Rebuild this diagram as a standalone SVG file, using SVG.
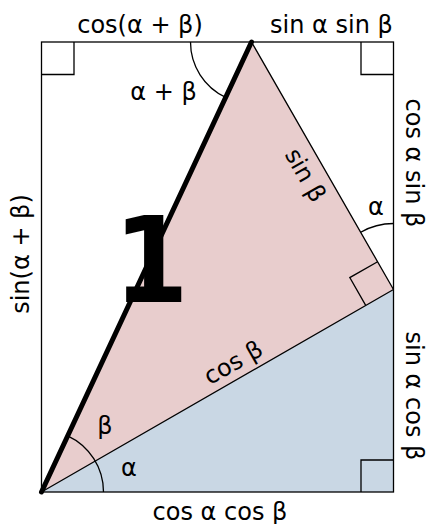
<svg xmlns="http://www.w3.org/2000/svg" width="426" height="524" viewBox="0 0 426 524">
<style>
.ln{fill:none;stroke:#000;stroke-width:1.3}
.t{font-family:"DejaVu Sans","Liberation Sans",sans-serif;font-size:24px;fill:#000;text-anchor:middle}
</style>
<rect width="426" height="524" fill="#fff"/>
<g id="fills">
<polygon points="41.5,492 393.5,289.5 393.5,492" fill="#c9d7e4"/>
<polygon points="41.5,492 251.5,42 393.5,289.5" fill="#e8cdcd"/>
</g>
<g id="lines">
<rect x="41.5" y="42" width="352" height="450" class="ln"/>
<path class="ln" d="M41.5,492 L393.5,289.5 M251.5,42 L393.5,289.5"/>
<path class="ln" d="M41.5,74.5 H74 V42 M361,42 V74.5 H393.5 M361,492 V460 H393.5"/>
<path class="ln" d="M377.6,261.7 L349.8,277.6 L365.7,305.4"/>
<path class="ln" d="M190.5,42 A61,61 0 0 0 225.7,97.3"/>
<path class="ln" d="M103.5,492 A62,62 0 0 0 67.7,435.8"/>
<path class="ln" d="M393.5,223.5 A66,66 0 0 0 360.7,232.2"/>
<path d="M41.5,492 L251.5,42" fill="none" stroke="#000" stroke-width="5" stroke-linecap="round"/>
</g>
<g id="labels">
<text class="t" x="140" y="33">cos(α + β)</text>
<text class="t" x="331.5" y="33">sin α sin β</text>
<text class="t" x="220" y="520">cos α cos β</text>
<text class="t" transform="translate(29,254) rotate(-90)">sin(α + β)</text>
<text class="t" transform="translate(406,163) rotate(90)">cos α sin β</text>
<text class="t" transform="translate(406,396) rotate(90)">sin α cos β</text>
<text class="t" x="163.5" y="100">α + β</text>
<text class="t" x="376" y="215">α</text>
<text class="t" x="105" y="434">β</text>
<text class="t" x="129" y="476">α</text>
<text class="t" transform="translate(298.4,179.2) rotate(60.2)">sin β</text>
<text class="t" transform="translate(237.2,369.6) rotate(-29.85)">cos β</text>
<text x="151" y="302" font-family="DejaVu Sans Condensed,DejaVu Sans,sans-serif" font-size="120" font-weight="bold" text-anchor="middle">1</text>
</g>
</svg>
